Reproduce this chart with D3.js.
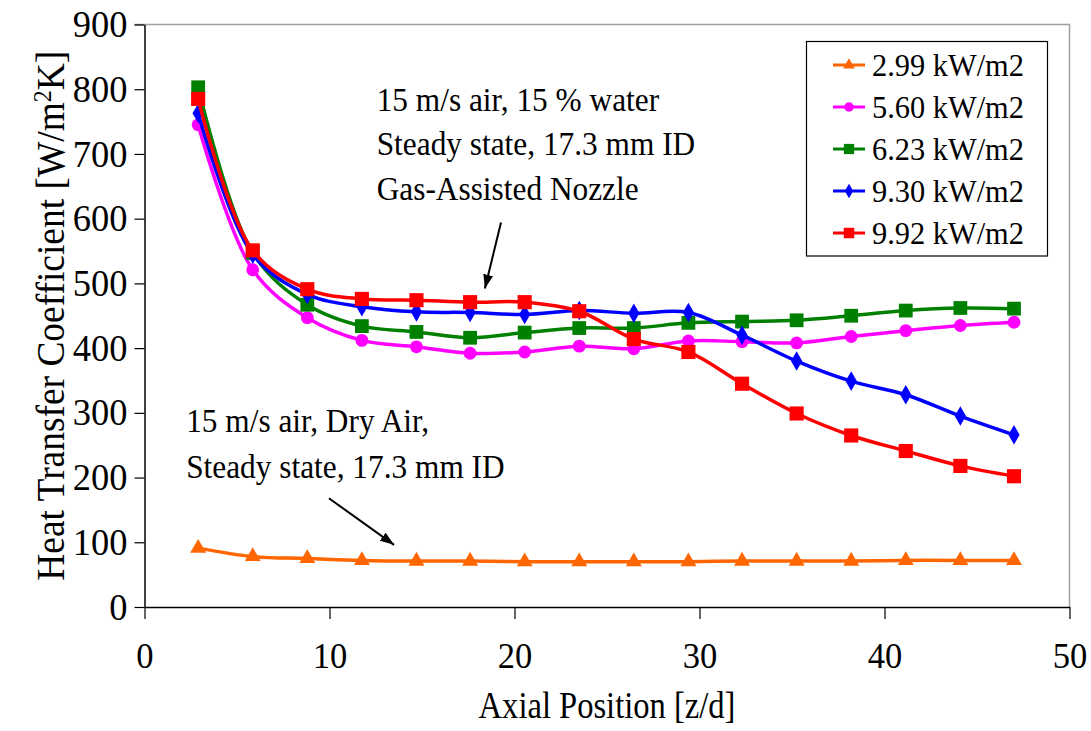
<!DOCTYPE html>
<html>
<head>
<meta charset="utf-8">
<script src="https://cdn.jsdelivr.net/npm/d3@7"></script>
<style>
  html, body { margin: 0; padding: 0; background: #fff; }
  svg { display: block; font-family: "Liberation Serif", "Times New Roman", serif; }
</style>
</head>
<body>
<div id="chart"></div>
<script>
// Axial positions [z/d]
const zd = [2.9, 5.85, 8.8, 11.75, 14.7, 17.6, 20.55, 23.5, 26.45, 29.4, 32.3, 35.25, 38.2, 41.15, 44.1, 47.0]

// Heat transfer coefficient [W/m2K] per heat flux
const h299 = [91, 78, 75, 72, 71, 71, 70, 70, 70, 70, 71, 71, 71, 72, 72, 72]
const h560 = [745, 521, 447, 412, 402, 392, 394, 403, 399, 411, 410, 408, 418, 427, 435, 440]
const h623 = [803, 547, 467, 434, 425, 416, 424, 431, 431, 439, 441, 443, 450, 458, 462, 461]
const h930 = [763, 545, 483, 464, 456, 455, 452, 458, 454, 455, 420, 380, 349, 328, 295, 266]
const h992 = [785, 551, 491, 476, 474, 471, 471, 457, 414, 394, 345, 299, 265, 241, 218, 202]

const seriesNames = ["2.99 kW/m2", "5.60 kW/m2", "6.23 kW/m2", "9.30 kW/m2", "9.92 kW/m2"]
const seriesValues = [h299, h560, h623, h930, h992]

const xTicks = [0, 10, 20, 30, 40, 50]
const yTicks = [0, 100, 200, 300, 400, 500, 600, 700, 800, 900]

const colors = ["#FF6600", "#FF00FF", "#008000", "#0000FF", "#FF0000"]
const shapes = [d3.symbolTriangle, d3.symbolCircle, d3.symbolSquare, d3.symbolDiamond, d3.symbolSquare]
const shapeSize = [110, 130, 190, 110, 200]

const width = 1091
const height = 731
const margin = { top: 24.5, right: 21.5, bottom: 124, left: 144.5 }

const svg = d3.select("#chart").append("svg")
  .attr("width", width)
  .attr("height", height)

const x = d3.scaleLinear().domain([0, 50]).range([margin.left, width - margin.right])
const y = d3.scaleLinear().domain([0, 900]).range([height - margin.bottom, margin.top])

const sx = 0.88 // axis title text is a bit narrow in the original
const tx = 0.96 // tick labels

// plot area border (top + right, gray)
svg.append("path")
  .attr("d", `M${margin.left - 10},${margin.top}H${x(50)}V${y(0)}`)
  .attr("fill", "none")
  .attr("stroke", "#a0a0a0")
  .attr("stroke-width", 1.5)

// X axis
const gx = svg.append("g")
  .attr("transform", `translate(0,${y(0)})`)
  .call(d3.axisBottom(x).tickValues(xTicks).tickSize(12).tickSizeOuter(0).tickPadding(23))
gx.select(".domain").attr("stroke", "#000").attr("stroke-width", 1.5)
gx.selectAll(".tick line").attr("stroke", "#000").attr("stroke-width", 1.2)
gx.selectAll(".tick text")
  .attr("font-family", "Liberation Serif")
  .attr("font-size", 36)
  .attr("fill", "#000")
  .attr("transform", `scale(${tx},1)`)

// Y axis
const gy = svg.append("g")
  .attr("transform", `translate(${margin.left},0)`)
  .call(d3.axisLeft(y).tickValues(yTicks).tickSize(10).tickSizeOuter(0).tickPadding(16))
gy.select(".domain").attr("stroke", "#000").attr("stroke-width", 1.5)
gy.selectAll(".tick line").attr("stroke", "#000").attr("stroke-width", 1.2)
gy.selectAll(".tick text")
  .attr("font-family", "Liberation Serif")
  .attr("font-size", 38)
  .attr("fill", "#000")
  .attr("x", -17 / tx)
  .attr("transform", `scale(${tx},1)`)

// Axis titles
svg.append("text")
  .attr("transform", `translate(${(x(0) + x(50)) / 2},718) scale(${sx},1)`)
  .attr("text-anchor", "middle")
  .attr("font-size", 37)
  .text("Axial Position [z/d]")

const yTitle = svg.append("text")
  .attr("transform", `translate(64,${(y(0) + y(900)) / 2}) rotate(-90) scale(0.96,1)`)
  .attr("text-anchor", "middle")
  .attr("font-size", 39)
yTitle.append("tspan").text("Heat Transfer Coefficient [W/m")
yTitle.append("tspan").attr("baseline-shift", "super").attr("font-size", 25).text("2")
yTitle.append("tspan").text("K]")

// Series lines and markers
const line = d3.line()
  .x((d, i) => x(zd[i]))
  .y(d => y(d))
  .curve(d3.curveCatmullRom.alpha(0.5))

seriesValues.forEach((vals, s) => {
  svg.append("path")
    .datum(vals)
    .attr("d", line)
    .attr("fill", "none")
    .attr("stroke", colors[s])
    .attr("stroke-width", 3.5)

  svg.append("g")
    .selectAll("path")
    .data(vals)
    .join("path")
    .attr("transform", (d, i) => `translate(${x(zd[i])},${y(d)})`)
    .attr("d", d3.symbol().type(shapes[s]).size(shapeSize[s]))
    .attr("fill", colors[s])
})

// Annotations
const arrowDefs = svg.append("defs")
arrowDefs.append("marker")
  .attr("id", "arrow")
  .attr("viewBox", "0 0 14 10")
  .attr("refX", 14)
  .attr("refY", 5)
  .attr("markerWidth", 14)
  .attr("markerHeight", 10)
  .attr("markerUnits", "userSpaceOnUse")
  .attr("orient", "auto")
  .append("path")
  .attr("d", "M0,0L14,5L0,10Z")
  .attr("fill", "#000")

const noteWet = ["15 m/s air, 15 % water", "Steady state, 17.3 mm ID", "Gas-Assisted Nozzle"]
const noteDry = ["15 m/s air, Dry Air,", "Steady state, 17.3 mm ID"]

function note(lines, x0, y0, dy) {
  lines.forEach((t, i) => {
    svg.append("text")
      .attr("transform", `translate(${x(x0)},${y(y0) + i * dy}) scale(0.95,1)`)
      .attr("font-size", 33)
      .text(t)
  })
}
note(noteWet, 12.55, 767, 44.7)
note(noteDry, 2.25, 271, 46)

function arrow(x1, y1, x2, y2) {
  svg.append("line")
    .attr("x1", x(x1)).attr("y1", y(y1))
    .attr("x2", x(x2)).attr("y2", y(y2))
    .attr("stroke", "#000")
    .attr("stroke-width", 2)
    .attr("marker-end", "url(#arrow)")
}
arrow(19.27, 594, 18.4, 492)
arrow(9.97, 168, 13.49, 96)

// Legend
const legend = svg.append("g")
legend.append("rect")
  .attr("x", 806.5).attr("y", 41.5)
  .attr("width", 241).attr("height", 214.5)
  .attr("fill", "#fff")
  .attr("stroke", "#000")
  .attr("stroke-width", 1.2)

seriesNames.forEach((name, s) => {
  const cy = 65 + s * 42
  legend.append("line")
    .attr("x1", 833).attr("x2", 865)
    .attr("y1", cy).attr("y2", cy)
    .attr("stroke", colors[s])
    .attr("stroke-width", 3)
  legend.append("path")
    .attr("transform", `translate(849,${cy})`)
    .attr("d", d3.symbol().type(shapes[s]).size(shapeSize[s] * 0.55))
    .attr("fill", colors[s])
  legend.append("text")
    .attr("transform", `translate(872,${cy + 11}) scale(0.95,1)`)
    .attr("font-size", 32)
    .text(name)
})
</script>
</body>
</html>
